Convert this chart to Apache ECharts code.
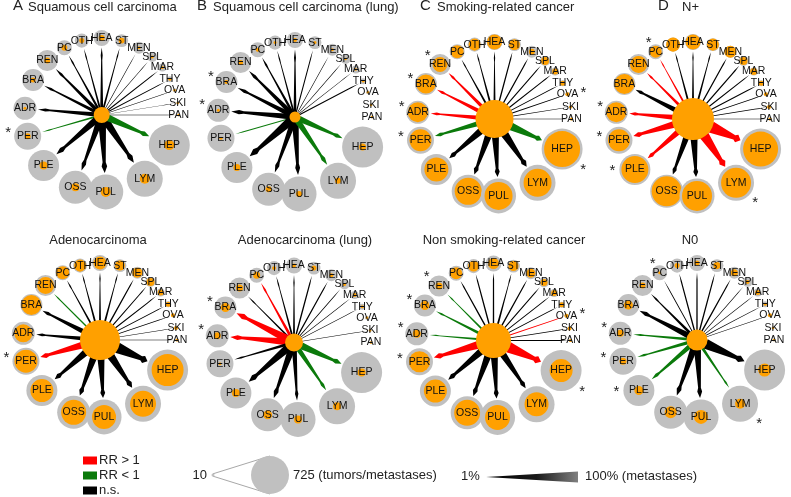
<!DOCTYPE html>
<html><head><meta charset="utf-8">
<script src="https://cdn.jsdelivr.net/npm/echarts@6/dist/echarts.min.js"></script>
<style>html,body{margin:0;padding:0;background:#fff}#c{width:791px;height:497px}</style>
</head><body><div id="c"></div>
<script>
// ---------------- DATA ----------------
const sites = ['PAN','SKI','OVA','THY','MAR','SPL','MEN','ST','HEA','OTH','PC','REN','BRA','ADR','PER','PLE','OSS','PUL','LYM','HEP'];
// total number of tumors/metastases per site (grey circles)
const totalCounts = [10,10,30,71,112,153,194,214,276,235,255,378,398,419,500,582,623,664,684,786];

const panelLetters = ['A','B','C','D','','','',''];
const panelNames = ['Squamous cell carcinoma','Squamous cell carcinoma (lung)','Smoking-related cancer','N+',
                    'Adenocarcinoma','Adenocarcinoma (lung)','Non smoking-related cancer','N0'];
// number of tumors in each subgroup (central orange node)
const centerCounts = [276,173,725,807,766,316,664,378];

// subgroup metastases per site (orange circles), site order as in `sites`
const countsA = [0,0,0,10,10,10,10,71,71,51,71,71,51,10,71,112,112,153,153,153];
const countsB = [0,0,0,0,0,0,10,10,30,10,30,51,30,10,10,92,71,71,71,92];
const countsC = [10,10,30,51,71,112,71,173,255,194,214,255,337,357,398,439,500,521,521,684];
const countsD = [10,30,30,51,92,112,194,194,255,235,194,296,357,357,398,500,562,562,562,664];
const countsE = [10,30,30,51,71,112,153,153,214,194,214,296,357,316,419,419,459,439,480,602];
const countsF = [0,0,0,10,30,10,30,51,30,30,92,92,133,92,10,112,133,112,112,112];
const countsG = [10,30,30,51,71,92,133,153,173,173,194,92,133,112,378,419,480,459,439,419];
const countsH = [0,0,30,10,51,30,92,92,51,51,10,71,133,92,92,133,194,235,153,214];

// % of patients with metastases at each site (edge width), 0 = no edge
const pctA = [2,2,3,6,8,4,4,14,22,14,18,31,27,35,14,56,52,64,64,56];
const pctB = [0,0,0,8,4,4,4,8,22,14,22,39,39,48,8,72,48,56,48,48];
const pctC = [4,4,6,6,8,8,10,10,14,14,14,27,31,31,39,56,56,56,64,64];
const pctD = [4,6,6,8,8,10,10,14,14,14,14,22,39,39,56,48,48,56,81,98];
const pctE = [3,3,4,6,8,8,10,14,14,14,14,10,39,31,56,56,56,56,64,89];
const pctF = [0,3,0,4,4,6,10,10,14,14,22,14,64,56,22,64,56,39,39,56];
const pctG = [6,6,6,6,6,8,10,14,10,10,10,14,22,14,64,56,56,56,56,89];
const pctH = [0,0,3,4,4,4,10,10,10,10,6,22,48,22,27,39,56,56,22,81];

// relative risk: '+' RR>1, '-' RR<1, 'n' not significant
const rrA = ['n','n','n','n','n','n','n','n','n','n','n','n','n','n','-','n','n','n','n','-'];
const rrB = ['n','n','n','n','n','n','n','n','n','n','n','n','n','n','-','n','n','n','-','-'];
const rrC = ['n','n','n','n','n','n','n','n','n','n','n','+','+','+','-','n','n','n','n','-'];
const rrD = ['n','n','n','n','n','n','n','n','n','n','+','+','n','+','+','+','n','n','+','+'];
const rrE = ['n','n','n','n','n','n','n','n','n','n','n','-','n','n','+','n','n','n','n','n'];
const rrF = ['n','n','n','n','n','n','n','n','n','n','+','n','+','+','n','n','n','n','-','-'];
const rrG = ['n','n','+','n','n','n','n','n','n','n','n','-','-','-','+','n','n','n','n','+'];
const rrH = ['n','n','n','n','n','n','n','n','n','n','n','n','n','-','-','-','n','n','-','n'];

// significance marks
const starsA = ['PER'];
const starsB = ['BRA','ADR'];
const starsC = ['REN','BRA','ADR','PER','OVA','HEP'];
const starsD = ['PC','ADR','PER','PLE','LYM'];
const starsE = ['PER'];
const starsF = ['BRA','ADR'];
const starsG = ['REN','BRA','ADR','PER','OVA','HEP'];
const starsH = ['PC','ADR','PER','PLE','LYM'];

// ---------------- LAYOUT / STYLE ----------------
const panels = [
  {counts:countsA,pct:pctA,rr:rrA,stars:starsA},{counts:countsB,pct:pctB,rr:rrB,stars:starsB},
  {counts:countsC,pct:pctC,rr:rrC,stars:starsC},{counts:countsD,pct:pctD,rr:rrD,stars:starsD},
  {counts:countsE,pct:pctE,rr:rrE,stars:starsE},{counts:countsF,pct:pctF,rr:rrF,stars:starsF},
  {counts:countsG,pct:pctG,rr:rrG,stars:starsG},{counts:countsH,pct:pctH,rr:rrH,stars:starsH}
];
const layout = {
  centers: [[101.7,115],[295,117],[494.5,119],[693,119],[100,340],[294,342.5],[493.5,340.5],[697,340]],
  siteAngle: [0,9,18.7,27.6,38,49,61,75,90,105,119,135,153,175,196,221,250,273,304,336],
  radius: 77, hepRadius: 74
};
const COL = {orange:'#ffa000', grey:'#c0c0c0', red:'#ff0000', green:'#0b7a0b', black:'#000000'};
const FONT = "'Liberation Sans', Arial, sans-serif";

function diam(n){ return Math.max(2.5, 3 + (n - 10) * 35 / 715); }
function edgeW(p){ return 0.2 + p * 0.12; }
function siteR(s){ return sites[s] === 'HEP' ? layout.hepRadius : layout.radius; }

function geom(p, s){
  const c = layout.centers[p];
  const a = layout.siteAngle[s] * Math.PI / 180;
  const R = siteR(s);
  return {cx:c[0], cy:c[1], ux:Math.cos(a), uy:-Math.sin(a), R, deg:layout.siteAngle[s]};
}

const pairs = [];
for (let p = 0; p < 8; p++) for (let s = 0; s < sites.length; s++) pairs.push([p, s]);
const centerData = centerCounts.map((c, i) => [i, c]);

function renderEdge(params, api){
  const p = api.value(0), s = api.value(1);
  const pct = panels[p].pct[s];
  if (!pct) return null;
  const g = geom(p, s);
  const k = api.size([1, 0])[0];
  const c = api.coord([g.cx, g.cy]);
  const w = edgeW(pct) * k, hw = w / 2;
  const rc = diam(centerCounts[p]) / 2 * k;
  const rt = diam(totalCounts[s]) / 2 * k;
  const s0 = Math.max(0, rc - 1), s1 = g.R * k - rt - 1.5;
  const L = s1 - s0;
  const nx = -g.uy, ny = g.ux;
  const thin = w < 1.8;
  const nf = thin ? 0.85 : 0.4, hf = thin ? 0.85 : 0.7;
  const pt = (t, h) => [c[0] + g.ux * (s0 + t * L) + nx * h, c[1] + g.uy * (s0 + t * L) + ny * h];
  const pts = [pt(0, hw), pt(0.79, nf * hw), pt(0.87, hf * hw), pt(1, 0), pt(0.87, -hf * hw), pt(0.79, -nf * hw), pt(0, -hw)];
  const r = panels[p].rr[s];
  const fill = r === '+' ? COL.red : (r === '-' ? COL.green : COL.black);
  return {type:'polygon', shape:{points:pts}, style:{fill:fill, stroke:null}};
}

function starAngle(deg){
  if (deg >= 270) return 320;
  if (deg <= 90) return deg;
  if (deg <= 150) return deg;
  if (deg <= 175) return 150;
  return 150 + (deg - 175) * 0.55;
}

function renderNode(params, api){
  const p = api.value(0), s = api.value(1);
  const g = geom(p, s);
  const k = api.size([1, 0])[0];
  const pos = api.coord([g.cx + g.ux * g.R, g.cy + g.uy * g.R]);
  const rg = diam(totalCounts[s]) / 2 * k;
  const ro = diam(panels[p].counts[s]) / 2 * k;
  const children = [
    {type:'circle', shape:{cx:pos[0], cy:pos[1], r:rg}, style:{fill:COL.grey}},
    {type:'circle', shape:{cx:pos[0], cy:pos[1], r:ro}, style:{fill:COL.orange}},
    {type:'text', style:{x:pos[0], y:pos[1], text:sites[s], fill:'#111', font:'10.5px ' + FONT, align:'center', verticalAlign:'middle'}}
  ];
  if (panels[p].stars.indexOf(sites[s]) >= 0) {
    const rad = starAngle(g.deg) * Math.PI / 180;
    const d = g.deg <= 90 ? Math.max(rg + 7, 17 * k) : rg + 7 * k;
    children.push({type:'text', style:{x:pos[0] + Math.cos(rad) * d, y:pos[1] - Math.sin(rad) * d + 3.5,
      text:'*', fill:'#222', font:'15px ' + FONT, align:'center', verticalAlign:'middle'}});
  }
  return {type:'group', children};
}

function renderCenter(params, api){
  const p = api.value(0);
  const c = layout.centers[p];
  const k = api.size([1, 0])[0];
  const pos = api.coord(c);
  return {type:'circle', shape:{cx:pos[0], cy:pos[1], r:diam(api.value(1)) / 2 * k}, style:{fill:COL.orange}};
}

// ---------------- TITLES & LEGENDS (graphic) ----------------
const titleTop = [[13,28,7.5],[197,213,7.5],[420,437,7.5],[658,682,7.5]];
const titleBottomX = [98, 305, 504, 690];
const graphics = [];
for (let i = 0; i < 4; i++) {
  graphics.push({type:'text', left:titleTop[i][0], top:titleTop[i][2] - 9, style:{text:panelLetters[i], font:'15px ' + FONT, fill:'#222'}});
  graphics.push({type:'text', x:titleTop[i][1], y:titleTop[i][2], style:{text:panelNames[i], font:'13px ' + FONT, fill:'#222', verticalAlign:'middle'}});
  graphics.push({type:'text', x:titleBottomX[i], y:240.5, style:{text:panelNames[i + 4], font:'13px ' + FONT, fill:'#222', align:'center', verticalAlign:'middle'}});
}
const rrLegend = [[COL.red,'RR > 1',460.5],[COL.green,'RR < 1',475.5],[COL.black,'n.s.',490.5]];
rrLegend.forEach(r => {
  graphics.push({type:'rect', shape:{x:83, y:r[2] - 4, width:14, height:8}, style:{fill:r[0]}});
  graphics.push({type:'text', x:99, y:r[2], style:{text:r[1], font:'13px ' + FONT, fill:'#222', verticalAlign:'middle'}});
});
// size legend
const sSmall = diam(10) / 2, sBig = diam(725) / 2;
graphics.push({type:'text', x:207, y:475, style:{text:'10', font:'13px ' + FONT, fill:'#222', align:'right', verticalAlign:'middle'}});
graphics.push({type:'polyline', shape:{points:[[270, 475 - sBig],[213, 475 - sSmall + 0.3],[213, 475 + sSmall - 0.3],[270, 475 + sBig]]}, style:{stroke:'#a8a8a8', lineWidth:1, fill:null}});
graphics.push({type:'circle', shape:{cx:213, cy:475, r:sSmall}, style:{fill:COL.grey}});
graphics.push({type:'circle', shape:{cx:270, cy:475, r:sBig}, style:{fill:COL.grey}});
graphics.push({type:'text', x:293, y:475, style:{text:'725 (tumors/metastases)', font:'13px ' + FONT, fill:'#222', verticalAlign:'middle'}});
// width legend
graphics.push({type:'text', x:461, y:476.5, style:{text:'1%', font:'13px ' + FONT, fill:'#222', verticalAlign:'middle'}});
graphics.push({type:'polygon', shape:{points:[[486,477],[578,471.5],[578,482.5]]},
  style:{fill:new echarts.graphic.LinearGradient(0,0,1,0,[{offset:0,color:'#000'},{offset:0.55,color:'#1a1a1a'},{offset:1,color:'#808080'}])}});
graphics.push({type:'text', x:585, y:476.5, style:{text:'100% (metastases)', font:'13px ' + FONT, fill:'#222', verticalAlign:'middle'}});

const chart = echarts.init(document.getElementById('c'), null, {renderer:'canvas'});
chart.setOption({
  animation:false,
  backgroundColor:'#fff',
  grid:{left:0, top:0, right:0, bottom:0},
  xAxis:{type:'value', min:0, max:791, show:false},
  yAxis:{type:'value', min:0, max:497, inverse:true, show:false},
  graphic: graphics,
  series:[
    {type:'custom', name:'edges', coordinateSystem:'cartesian2d', renderItem:renderEdge, data:pairs, clip:false, z:1, silent:true},
    {type:'custom', name:'sites', coordinateSystem:'cartesian2d', renderItem:renderNode, data:pairs, clip:false, z:2, silent:true},
    {type:'custom', name:'tumors', coordinateSystem:'cartesian2d', renderItem:renderCenter, data:centerData, clip:false, z:3, silent:true}
  ]
});
</script></body></html>
